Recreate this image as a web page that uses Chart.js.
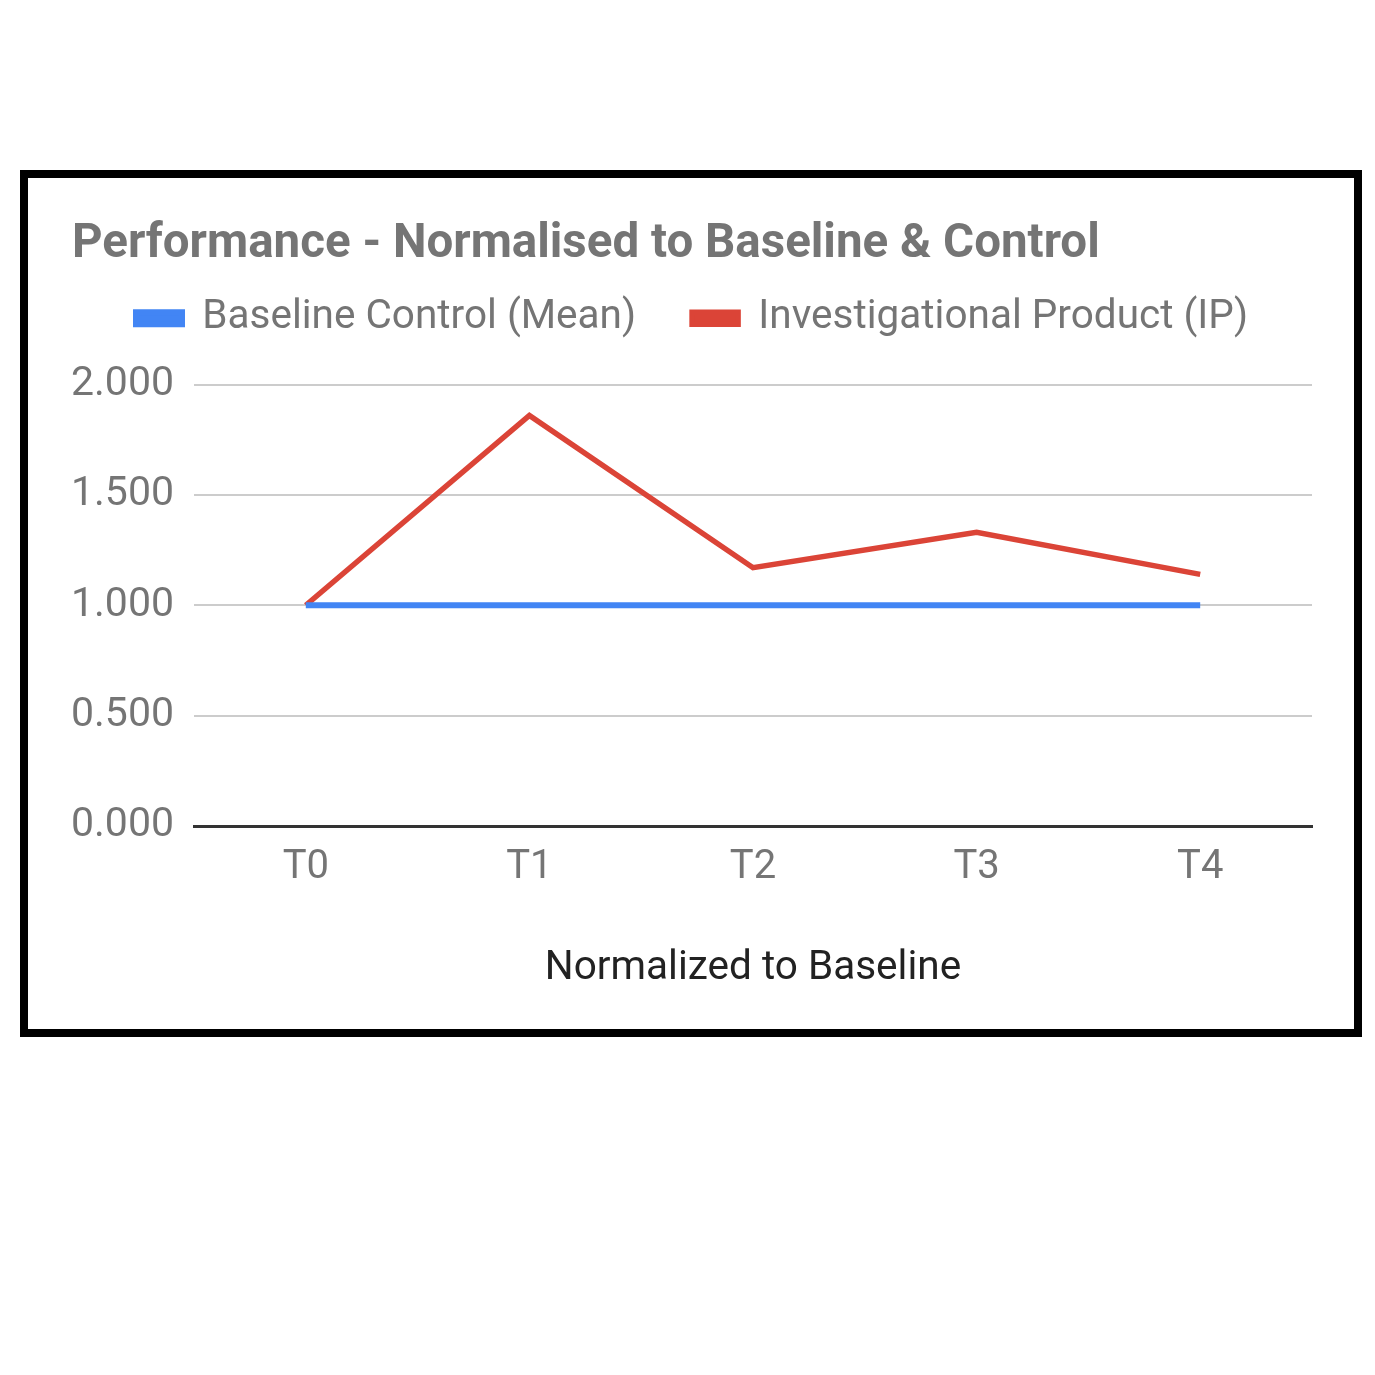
<!DOCTYPE html>
<html>
<head>
<meta charset="utf-8">
<script src="https://cdn.jsdelivr.net/npm/chart.js@4"></script>
<style>
  body { margin: 0; background: #fff; }
  #box {
    position: absolute; left: 20px; top: 170px;
    width: 1342px; height: 867px;
    border: 8px solid #000; box-sizing: border-box;
  }
  #wrap { position: absolute; left: 0; top: 0; width: 1326px; height: 851px; }
</style>
</head>
<body>
<div id="box"><div id="wrap"><canvas id="myChart"></canvas></div></div>
<script>
// data
var labels = ['T0', 'T1', 'T2', 'T3', 'T4'];
var baseline = [1, 1, 1, 1, 1];
var ip = [1, 1.86, 1.17, 1.33, 1.14];
var yTicks = [0, 0.5, 1, 1.5, 2];

var ctx = document.getElementById('myChart').getContext('2d');

var chart = new Chart(ctx, {
    type: 'line',
    data: {
        labels: labels,
        datasets: [{
            label: 'Baseline Control (Mean)',
            data: baseline,
            borderColor: '#4285f4',
            backgroundColor: '#4285f4',
            borderWidth: 6,
            pointRadius: 0
        }, {
            label: 'Investigational Product (IP)',
            data: ip,
            borderColor: '#db4437',
            backgroundColor: '#db4437',
            borderWidth: 5.5,
            pointRadius: 0
        }]
    },
    options: {
        responsive: true,
        maintainAspectRatio: false,
        animation: false,
        layout: { padding: { left: 44, right: 42, top: 0, bottom: 0 } },
        plugins: {
            title: {
                display: true,
                text: 'Performance - Normalised to Baseline & Control',
                align: 'start',
                color: '#757575',
                font: { family: 'Roboto', size: 47.5, weight: 'bold' },
                padding: { top: 39, bottom: -32 }
            },
            // empty spacer between legend and plot
            subtitle: {
                display: true,
                text: '',
                weight: 500,
                font: { size: 30 },
                padding: { top: 0, bottom: 0 }
            },
            legend: {
                labels: {
                    color: '#757575',
                    font: { family: 'Roboto', size: 40.5 },
                    boxWidth: 46,
                    boxHeight: 12,
                    padding: 56
                }
            },
            tooltip: { enabled: false }
        },
        scales: {
            x: {
                offset: true,
                afterFit: function (scale) { scale.height = 203; },
                grid: { display: false, drawTicks: false },
                border: { color: '#333', width: 3 },
                ticks: { color: '#757575', font: { family: 'Roboto', size: 40 }, padding: 18 },
                title: {
                    display: true,
                    text: 'Normalized to Baseline',
                    color: '#222',
                    font: { family: 'Roboto', size: 40.5 },
                    padding: { top: 0, bottom: 36 }
                }
            },
            y: {
                min: 0,
                max: 2,
                afterFit: function (scale) { scale.width = 122; },
                afterBuildTicks: function (scale) {
                    scale.ticks = yTicks.map(function (v) { return { value: v }; });
                },
                grid: { color: '#cccccc', lineWidth: 2, drawTicks: false },
                border: { display: false },
                ticks: {
                    color: '#757575',
                    font: { family: 'Roboto', size: 41 },
                    padding: 20,
                    callback: function (v) { return v.toFixed(3); }
                }
            }
        }
    }
});
</script>
</body>
</html>
